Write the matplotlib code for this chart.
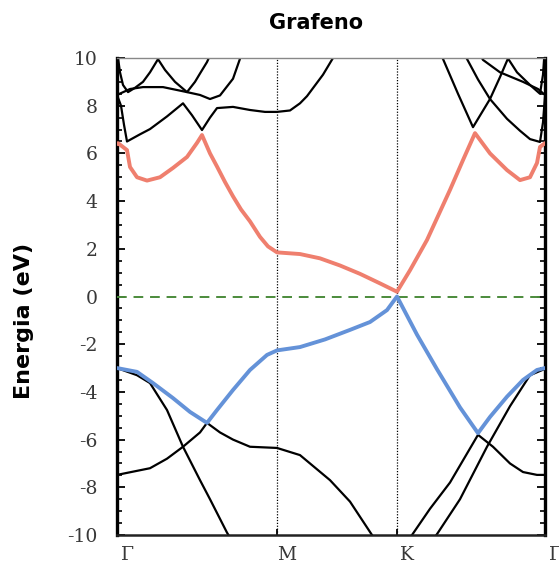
import matplotlib
matplotlib.use('Agg')
import matplotlib.pyplot as plt
from matplotlib.ticker import MultipleLocator
from matplotlib.transforms import ScaledTranslation

plt.rcParams['axes.unicode_minus'] = False

# ---- data ----
title = "Grafeno"
ylabel = "Energia (eV)"
sym_labels = ["Γ", "M", "K", "Γ"]
sym_pos = [0.0, 1.60, 2.80, 4.28]

# conduction pi* band (red)
red_k = [0.00, 0.01, 0.10, 0.13, 0.20, 0.30, 0.43, 0.56, 0.70, 0.80, 0.85, 0.93, 1.00, 1.08, 1.16,
         1.24, 1.33, 1.43, 1.51, 1.60, 1.83, 2.03, 2.23, 2.43, 2.63, 2.80, 2.93, 3.10, 3.33, 3.46,
         3.58, 3.73, 3.90, 4.03, 4.13, 4.20, 4.23, 4.28]
red_E = [6.40, 6.43, 6.14, 5.43, 5.00, 4.86, 5.00, 5.39, 5.85, 6.44, 6.77, 6.00, 5.45, 4.80, 4.20,
         3.65, 3.15, 2.50, 2.10, 1.85, 1.78, 1.60, 1.30, 0.95, 0.55, 0.20, 1.10, 2.37, 4.47, 5.72,
         6.85, 6.00, 5.30, 4.88, 5.00, 5.60, 6.27, 6.43]

# valence pi band (blue)
blue_k = [0.00, 0.20, 0.36, 0.56, 0.73, 0.90, 1.00, 1.16, 1.33, 1.50, 1.60, 1.83, 2.08, 2.33, 2.53,
          2.70, 2.80, 3.00, 3.20, 3.43, 3.61, 3.73, 3.90, 4.06, 4.20, 4.28]
blue_E = [-3.00, -3.16, -3.63, -4.26, -4.84, -5.30, -4.76, -3.92, -3.08, -2.45, -2.26, -2.12, -1.80,
          -1.40, -1.07, -0.57, 0.00, -1.60, -3.05, -4.65, -5.73, -5.05, -4.20, -3.50, -3.08, -3.00]

# other bands (black)
s1_k = [0.00, 0.20, 0.33, 0.50, 0.66, 0.83, 0.93, 1.10, 1.33, 1.83, 2.33, 2.80, 3.03, 3.21, 3.43,
        3.70, 3.93, 4.13, 4.26, 4.28]
s1_E = [-3.00, -3.30, -3.63, -4.76, -6.30, -7.70, -8.50, -9.90, -11.5, -13.5, -13.5, -12.5, -11.0,
        -9.90, -8.50, -6.30, -4.60, -3.30, -3.07, -3.00]

s2_k = [0.00, 0.33, 0.50, 0.66, 0.83, 0.90, 1.03, 1.16, 1.33, 1.60, 1.83, 2.13, 2.33, 2.55, 2.73,
        2.95, 3.13, 3.33, 3.61, 3.76, 3.93, 4.06, 4.20, 4.28]
s2_E = [-7.48, -7.20, -6.80, -6.30, -5.70, -5.30, -5.70, -6.00, -6.30, -6.35, -6.65, -7.70, -8.60,
        -10.0, -11.0, -10.0, -8.90, -7.80, -5.80, -6.30, -7.00, -7.36, -7.48, -7.48]

u1_k = [0.00, 0.04, 0.07, 0.10, 0.23, 0.33, 0.50, 0.66, 0.75, 0.85, 0.93, 1.00, 1.16, 1.33, 1.48,
        1.60, 1.73, 1.83, 1.90, 1.98, 2.06, 2.16, 2.28, 2.83, 3.38, 3.50, 3.61, 3.73, 3.90, 4.03,
        4.13, 4.23, 4.26, 4.28]
u1_E = [8.45, 8.00, 7.20, 6.50, 6.80, 7.02, 7.55, 8.10, 7.60, 6.98, 7.50, 7.90, 7.95, 7.82, 7.74,
        7.74, 7.80, 8.10, 8.40, 8.85, 9.30, 10.0, 10.7, 12.0, 10.7, 9.96, 9.10, 8.28, 7.45, 6.95,
        6.60, 6.48, 7.30, 8.40]

h_k = [0.00, 0.13, 0.26, 0.46, 0.70, 0.83, 0.93, 1.03, 1.16, 1.23, 1.28]
h_E = [8.45, 8.70, 8.78, 8.78, 8.57, 8.45, 8.28, 8.43, 9.13, 9.97, 10.5]

v_k = [0.00, 0.01, 0.03, 0.06, 0.11, 0.18, 0.26, 0.33, 0.41, 0.48, 0.58, 0.70, 0.78, 0.83, 0.90, 0.95]
v_E = [10.8, 10.0, 9.40, 8.87, 8.57, 8.75, 9.00, 9.40, 9.95, 9.50, 9.00, 8.57, 9.00, 9.35, 9.83, 10.3]

l1_k = [3.18, 3.26, 3.41, 3.56, 3.73, 3.83, 3.91, 4.00, 4.13, 4.23, 4.26, 4.28]
l1_E = [10.5, 9.96, 8.50, 7.10, 8.28, 9.20, 9.98, 9.40, 8.87, 8.50, 9.30, 10.5]

l3_k = [3.61, 3.66, 3.83, 4.06, 4.21, 4.28]
l3_E = [10.3, 9.92, 9.40, 9.00, 8.70, 8.45]

black_bands = [(s1_k, s1_E), (s2_k, s2_E), (u1_k, u1_E), (h_k, h_E),
               (v_k, v_E), (l1_k, l1_E), (l3_k, l3_E)]

# ---- figure ----
W, H = 559, 568
fig = plt.figure(figsize=(W / 100, H / 100), dpi=100)
ax = fig.add_axes([117 / W, 1 - 535 / H, 428 / W, 477 / H])

for kk, ee in black_bands:
    ax.plot(kk, ee, color='black', lw=1.6, solid_capstyle='round',
            solid_joinstyle='round', zorder=2)

ax.axhline(0, color='#4b8b3b', lw=1.4, ls=(0, (5, 3.5)), zorder=3)
for p in sym_pos[1:-1]:
    ax.axvline(p, color='black', lw=0.9, ls=(0, (1, 1.3)), zorder=1)

ax.plot(red_k, red_E, color='#ef7f6e', lw=2.8, solid_capstyle='round',
        solid_joinstyle='round', zorder=4)
ax.plot(blue_k, blue_E, color='#6492d8', lw=2.8, solid_capstyle='round',
        solid_joinstyle='round', zorder=4)

ax.set_xlim(sym_pos[0], sym_pos[-1])
ax.set_ylim(-10, 10)

ax.yaxis.set_major_locator(MultipleLocator(2))
ax.yaxis.set_minor_locator(MultipleLocator(0.5))
ax.tick_params(axis='y', which='major', direction='in', length=6, width=1.3,
               left=True, right=True, pad=14, labelsize=13.5, labelcolor='#383838')
ax.tick_params(axis='y', which='minor', direction='in', length=3.5, width=1.2,
               left=True, right=True)
ax.set_xticks(sym_pos)
ax.set_xticklabels(sym_labels)
ax.tick_params(axis='x', direction='in', length=4, width=1.3, pad=8,
               labelsize=13.5, labelcolor='#383838')
for lab in ax.get_yticklabels() + ax.get_xticklabels():
    lab.set_family('DejaVu Serif')
off = ScaledTranslation(0.10, 0, fig.dpi_scale_trans)
for lab in ax.get_xticklabels():
    lab.set_transform(lab.get_transform() + off)

ax.spines['left'].set_linewidth(2.4)
ax.spines['right'].set_linewidth(2.4)
ax.spines['bottom'].set_linewidth(1.8)
ax.spines['bottom'].set_color('#222222')
ax.spines['top'].set_linewidth(1.0)
ax.spines['top'].set_color('#888888')

fig.text(316 / W, 1 - 29 / H, title, ha='center', va='baseline',
         fontsize=15, fontweight='bold')
fig.text(24 / W, 1 - 321 / H, ylabel, rotation=90, ha='center', va='center',
         fontsize=16, fontweight='bold')

fig.savefig('out.png', dpi=100)
